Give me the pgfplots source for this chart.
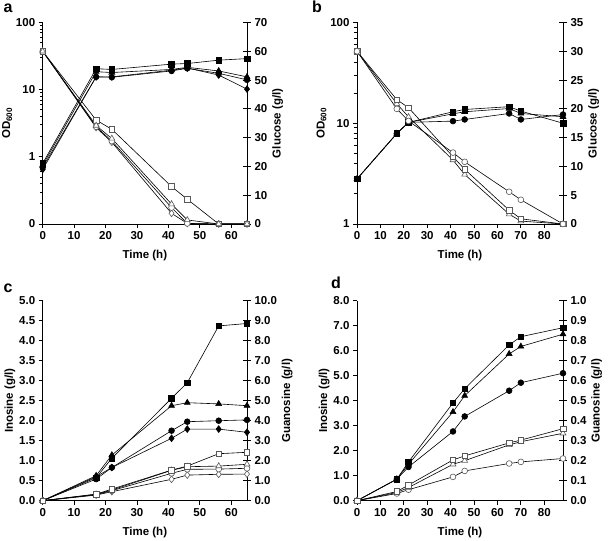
\documentclass[border=0pt]{standalone}
\usepackage{fontspec}
\setmainfont{Liberation Sans}
\usepackage{pgfplots}
\usepackage{pgfplotstable}
\pgfplotsset{compat=1.18}

\newcommand{\ff}{\bfseries\fontsize{11.5}{13}\selectfont}

\pgfplotstableread{
t sq ci tr di
0 0.80 0.70 0.75 0.65
17 20.5 15.5 18.5 15.5
22 20 15.3 18 15.5
41 24 19 20 19.5
46 24.5 20.8 21.5 21
56 27.5 17.5 19 16.5
65 29 14 15.5 10.2
}\aOD
\pgfplotstableread{
t sq ci tr di
0 60 60 60 60
17 36.1 33.8 34.2 33.5
22 32.9 28.8 29.7 28.4
41 13 5.7 6.9 3.7
46 8.6 0.2 1.4 0.2
56 0 0 0 0
65 0 0 0 0
}\aGlc
\pgfplotstableread{
t sq ci tr
0 2.8 2.8 2.8
17 7.9 7.9 7.9
22 10.2 10.2 10.2
41 13 10.5 12.4
46 13.7 10.9 13
65 14.6 12.5 14
70 13.2 10.9 12.5
88 10 12.2 11.6
}\bOD
\pgfplotstableread{
t sq ci tr
0 30 30 30
17 21.6 20 20.9
22 20.2 17.9 18.6
41 11.7 12.4 11.1
46 9.5 10.8 8.6
65 2.4 5.6 1.7
70 0.9 4.2 0.5
88 0 0 0
}\bGlc
\pgfplotstableread{
t sq tr ci di
0 0 0 0 0
17 0.575 0.625 0.54 0.6
22 1.06 1.14 0.83 0.83
41 2.56 2.375 1.75 1.56
46 2.95 2.45 1.975 1.79
56 4.37 2.42 2.0 1.79
65 4.43 2.375 2.02 1.71
}\cIno
\pgfplotstableread{
t sq tr ci di
0 0 0 0 0
17 0.33 0.32 0.3 0.28
22 0.58 0.53 0.5 0.45
41 1.53 1.52 1.37 1.07
46 1.73 1.7 1.57 1.28
56 2.35 1.73 1.58 1.32
65 2.42 1.82 1.62 1.33
}\cGuo
\pgfplotstableread{
t sq tr ci
0 0 0 0
17 0.86 0.86 0.86
22 1.55 1.46 1.35
41 3.91 3.55 2.77
46 4.48 4.2 3.37
65 6.23 5.87 4.4
70 6.56 6.17 4.72
88 6.92 6.66 5.1
}\dIno
\pgfplotstableread{
t sq tr ci
0 0 0 0
17 0.046 0.041 0.036
22 0.078 0.066 0.055
41 0.204 0.182 0.119
46 0.224 0.2 0.149
65 0.289 0.279 0.186
70 0.303 0.295 0.194
88 0.36 0.337 0.211
}\dGuo

\pgfplotsset{
  base/.style={scale only axis, enlargelimits=false, clip=false,
    tick label style={font=\ff}, label style={font=\ff},
    /pgf/number format/assume math mode=true,
    axis line style={line width=0.8pt}, tick style={line width=0.8pt, black},
    minor tick num=0},
  leftax/.style={base, axis x line*=bottom, axis y line*=left, tick align=outside, major tick length=4pt,
    ylabel style={yshift=-3pt}, xlabel style={yshift=-4pt}},
  rightax/.style={base, axis x line=none, axis y line*=right, tick align=center, major tick length=8pt,
    ylabel style={yshift=2pt}},
  dec1/.style={yticklabel style={/pgf/number format/.cd, fixed, fixed zerofill, precision=1}},
  ln/.style={black, line width=0.6pt},
  fsq/.style={ln, mark=square*, mark size=2.8pt, mark options={solid, fill=black, draw=black}},
  fci/.style={ln, mark=*, mark size=2.9pt, mark options={solid, fill=black, draw=black}},
  ftr/.style={ln, mark=triangle*, mark size=3.4pt, mark options={solid, fill=black, draw=black}},
  fdi/.style={ln, mark=diamond*, mark size=3.4pt, mark options={solid, fill=black, draw=black}},
  osq/.style={ln, mark=square*, mark size=2.8pt, mark options={solid, fill=white, draw=black!65}},
  oci/.style={ln, mark=*, mark size=2.9pt, mark options={solid, fill=white, draw=black!65}},
  otr/.style={ln, mark=triangle*, mark size=3.4pt, mark options={solid, fill=white, draw=black!65}},
  odi/.style={ln, mark=diamond*, mark size=3.4pt, mark options={solid, fill=white, draw=black!65}},
}

\begin{document}
\begin{tikzpicture}
\path[use as bounding box] (0,0) rectangle (609pt,540pt);

% ---------- panel a ----------
\begin{axis}[leftax, at={(42.7pt,316pt)}, anchor=south west, width=204.3pt, height=201.5pt,
  xmin=0, xmax=65, xtick={0,10,...,60},
  ymode=log, ymin=0.1, ymax=100, ytick={0.1,1,10,100}, yticklabels={0,1,10,100},
  xlabel={Time (h)}, ylabel={OD\textsubscript{600}}]
\addplot[fdi] table[x=t,y=di]{\aOD};
\addplot[fci] table[x=t,y=ci]{\aOD};
\addplot[ftr] table[x=t,y=tr]{\aOD};
\addplot[fsq] table[x=t,y=sq]{\aOD};
\end{axis}
\begin{axis}[rightax, at={(42.7pt,316pt)}, anchor=south west, width=204.3pt, height=201.5pt,
  xmin=0, xmax=65, ymin=0, ymax=70, ytick={0,10,...,70}, ylabel={Glucose (g/l)}]
\addplot[odi] table[x=t,y=di]{\aGlc};
\addplot[oci] table[x=t,y=ci]{\aGlc};
\addplot[osq] table[x=t,y=sq]{\aGlc};
\addplot[otr] table[x=t,y=tr]{\aGlc};
\end{axis}

% ---------- panel b ----------
\begin{axis}[leftax, at={(357pt,316pt)}, anchor=south west, width=206pt, height=201.5pt,
  xmin=0, xmax=88, xtick={0,10,...,80},
  ymode=log, ymin=1, ymax=100, ytick={1,10,100}, yticklabels={1,10,100},
  xlabel={Time (h)}, ylabel={OD\textsubscript{600}}]
\addplot[fci] table[x=t,y=ci]{\bOD};
\addplot[ftr] table[x=t,y=tr]{\bOD};
\addplot[fsq] table[x=t,y=sq]{\bOD};
\end{axis}
\begin{axis}[rightax, at={(357pt,316pt)}, anchor=south west, width=206pt, height=201.5pt,
  xmin=0, xmax=88, ymin=0, ymax=35, ytick={0,5,...,35}, ylabel={Glucose (g/l)}]
\addplot[otr] table[x=t,y=tr]{\bGlc};
\addplot[osq] table[x=t,y=sq]{\bGlc};
\addplot[oci] table[x=t,y=ci]{\bGlc};
\end{axis}

% ---------- panel c ----------
\begin{axis}[leftax, dec1, at={(42.7pt,39.3pt)}, anchor=south west, width=204.3pt, height=200pt,
  xmin=0, xmax=65, xtick={0,10,...,60},
  ymin=0, ymax=5, ytick={0,0.5,...,5},
  xlabel={Time (h)}, ylabel={Inosine (g/l)}]
\addplot[fdi] table[x=t,y=di]{\cIno};
\addplot[fci] table[x=t,y=ci]{\cIno};
\addplot[ftr] table[x=t,y=tr]{\cIno};
\addplot[fsq] table[x=t,y=sq]{\cIno};
\end{axis}
\begin{axis}[rightax, dec1, at={(42.7pt,39.3pt)}, anchor=south west, width=204.3pt, height=200pt,
  xmin=0, xmax=65, ymin=0, ymax=10, ytick={0,1,...,10}, ylabel={Guanosine (g/l)}]
\addplot[odi] table[x=t,y=di]{\cGuo};
\addplot[oci] table[x=t,y=ci]{\cGuo};
\addplot[otr] table[x=t,y=tr]{\cGuo};
\addplot[osq] table[x=t,y=sq]{\cGuo};
\end{axis}

% ---------- panel d ----------
\begin{axis}[leftax, dec1, at={(357pt,39.3pt)}, anchor=south west, width=206pt, height=200pt,
  xmin=0, xmax=88, xtick={0,10,...,80},
  ymin=0, ymax=8, ytick={0,1,...,8},
  xlabel={Time (h)}, ylabel={Inosine (g/l)}]
\addplot[fci] table[x=t,y=ci]{\dIno};
\addplot[ftr] table[x=t,y=tr]{\dIno};
\addplot[fsq] table[x=t,y=sq]{\dIno};
\end{axis}
\begin{axis}[rightax, dec1, at={(357pt,39.3pt)}, anchor=south west, width=206pt, height=200pt,
  xmin=0, xmax=88, ymin=0, ymax=1, ytick={0,0.1,...,1}, ylabel={Guanosine (g/l)}]
\addplot[oci] table[x=t,y=ci]{\dGuo};
\addplot[otr] table[x=t,y=tr]{\dGuo};
\addplot[osq] table[x=t,y=sq]{\dGuo};
\end{axis}

\node[font=\bfseries\fontsize{16}{18}\selectfont] at (8pt,532pt) {a};
\node[font=\bfseries\fontsize{16}{18}\selectfont] at (317pt,533pt) {b};
\node[font=\bfseries\fontsize{16}{18}\selectfont] at (8pt,252pt) {c};
\node[font=\bfseries\fontsize{16}{18}\selectfont] at (336pt,257pt) {d};
\end{tikzpicture}
\end{document}
